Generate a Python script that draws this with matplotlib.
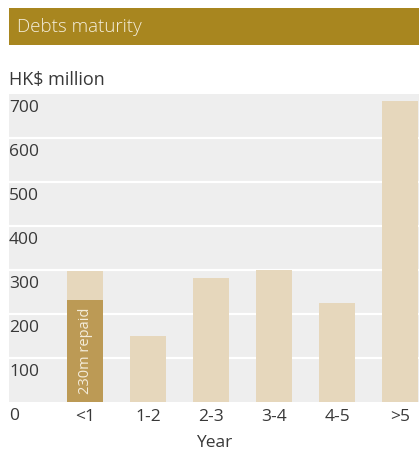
import matplotlib
matplotlib.use("Agg")
import matplotlib.pyplot as plt

categories = ["<1", "1-2", "2-3", "3-4", "4-5", ">5"]
values = [298, 150, 282, 300, 225, 684]
repaid = [232, 0, 0, 0, 0, 0]
repaid_label = "230m repaid"
yticks = [0, 100, 200, 300, 400, 500, 600, 700]
title = "Debts maturity"
ylabel = "HK$ million"
xlabel = "Year"

FONT = "Open Sans"
TXT = "#383838"

W, H = 419, 455
fig = plt.figure(figsize=(W / 100, H / 100), dpi=100)
plt.rcParams["font.family"] = [FONT, "DejaVu Sans"]

# title band
band = fig.add_axes([9 / W, 1 - 45 / H, 410 / W, 37 / H])
band.set_facecolor("#A8861F")
band.set_xticks([]); band.set_yticks([])
for s in band.spines.values():
    s.set_visible(False)
band.text(0.02, 0.48, title, color="#F4EEDC", fontsize=13.5, fontweight="light",
          va="center", ha="left", transform=band.transAxes)

fig.text(9 / W, 1 - 80 / H, ylabel, fontsize=13, color=TXT, va="center", ha="left")

ax = fig.add_axes([9 / W, 53 / H, 410 / W, 308 / H])
ax.set_facecolor("#EEEEEE")
x = list(range(len(categories)))
ax.bar(x, values, width=0.57, color="#E6D7BC", zorder=2)
ax.bar(x, repaid, width=0.57, color="#BC9A55", zorder=3)
ax.text(0, 18, repaid_label, rotation=90, ha="center", va="bottom",
        color="#F4ECDA", fontsize=10.5, zorder=4)

ax.set_xlim(-1.206, 5.30)
ax.set_ylim(0, 700)
ax.set_yticks([])
for v in yticks[1:-1]:
    ax.axhline(v, color="white", lw=1.6, zorder=1)
for s in ax.spines.values():
    s.set_visible(False)
ax.set_xticks(x)
ax.set_xticklabels(categories, fontsize=12.5, color=TXT)
ax.tick_params(axis="x", length=0, pad=5)

# y labels placed just below each gridline
for v in yticks:
    ax.annotate(str(v), xy=(0, v), xycoords=("axes fraction", "data"),
                xytext=(0, -4), textcoords="offset points",
                ha="left", va="top", fontsize=12.5, color=TXT, zorder=5)

ax.set_xlabel(xlabel, fontsize=12.5, color=TXT, labelpad=7)

fig.savefig("out.png", dpi=100)
